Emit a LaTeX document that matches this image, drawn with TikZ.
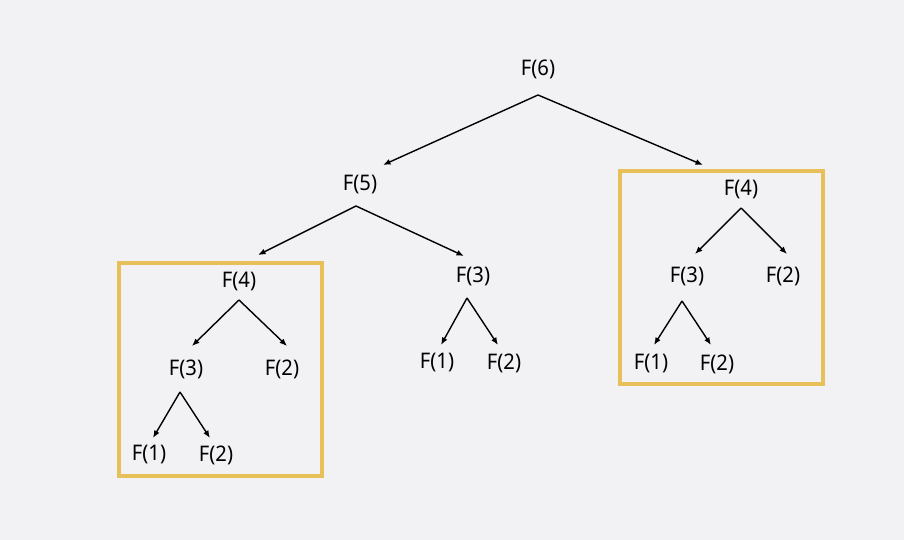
\documentclass[tikz,border=0pt]{standalone}
\usepackage{fontspec}
\setmainfont{Noto Sans}[FakeStretch=0.94]
\usetikzlibrary{arrows.meta,calc}
\definecolor{bgc}{HTML}{F2F2F4}
\definecolor{boxc}{HTML}{E8C05A}
\tikzset{
  lbl/.style={inner sep=0pt, font=\fontsize{21.5}{24}\selectfont, text=black},
  arr/.style={line width=1.4pt, -{Latex[length=7.5pt,width=6pt]}},
  frame/.style={draw=boxc, line width=3.5pt}
}
\begin{document}
\begin{tikzpicture}[x=1pt,y=-1pt]
\fill[bgc] (0,0) rectangle (904,540);
\useasboundingbox (0,0) rectangle (904,540);
% frames
\node[frame, minimum width=203pt, minimum height=213pt, inner sep=0pt] (boxL) at (220.5,369.5) {};
\node[frame, minimum width=203pt, minimum height=213pt, inner sep=0pt] (boxR) at (721.5,277.5) {};
% nodes
\node[lbl] (f6) at (538,69) {F(6)};
\node[lbl] (f5) at (360,185) {F(5)};
\node[lbl] (r4) at (741,189) {F(4)};
\node[lbl] (l4) at (239,281) {F(4)};
\node[lbl] (m3) at (473,276) {F(3)};
\node[lbl] (m1) at (437,363) {F(1)};
\node[lbl] (m2) at (504,363) {F(2)};
\node[lbl] (l3) at (186,369) {F(3)};
\node[lbl] (l2) at (282,369) {F(2)};
\node[lbl] (l31) at (149,455) {F(1)};
\node[lbl] (l32) at (216,455) {F(2)};
\node[lbl] (r3) at (687,276) {F(3)};
\node[lbl] (r2) at (783,276) {F(2)};
\node[lbl] (r31) at (651,364) {F(1)};
\node[lbl] (r32) at (717,364) {F(2)};
% connectors
\draw[arr] ($(f6)+(0,26)$) -- ($(f5)+(23,-20)$);
\draw[arr] ($(f6)+(0,26)$) -- ($(r4)+(-38,-24)$);
\draw[arr] ($(f5)+(-4,21)$) -- ($(l4)+(19,-26)$);
\draw[arr] ($(f5)+(-4,21)$) -- ($(m3)+(-9,-20)$);
\draw[arr] ($(m3)+(-6,22)$) -- ($(m1)+(4,-18)$);
\draw[arr] ($(m3)+(-6,22)$) -- ($(m2)+(-6,-18)$);
\draw[arr] ($(l4)+(0,19)$) -- ($(l3)+(6,-23)$);
\draw[arr] ($(l4)+(0,19)$) -- ($(l2)+(5,-23)$);
\draw[arr] ($(l3)+(-6,23)$) -- ($(l31)+(4,-17)$);
\draw[arr] ($(l3)+(-6,23)$) -- ($(l32)+(-6,-17)$);
\draw[arr] ($(r4)+(0,19)$) -- ($(r3)+(8,-22)$);
\draw[arr] ($(r4)+(0,19)$) -- ($(r2)+(4,-22)$);
\draw[arr] ($(r3)+(-5,25)$) -- ($(r31)+(3,-19)$);
\draw[arr] ($(r3)+(-5,25)$) -- ($(r32)+(-6,-19)$);
\end{tikzpicture}
\end{document}
